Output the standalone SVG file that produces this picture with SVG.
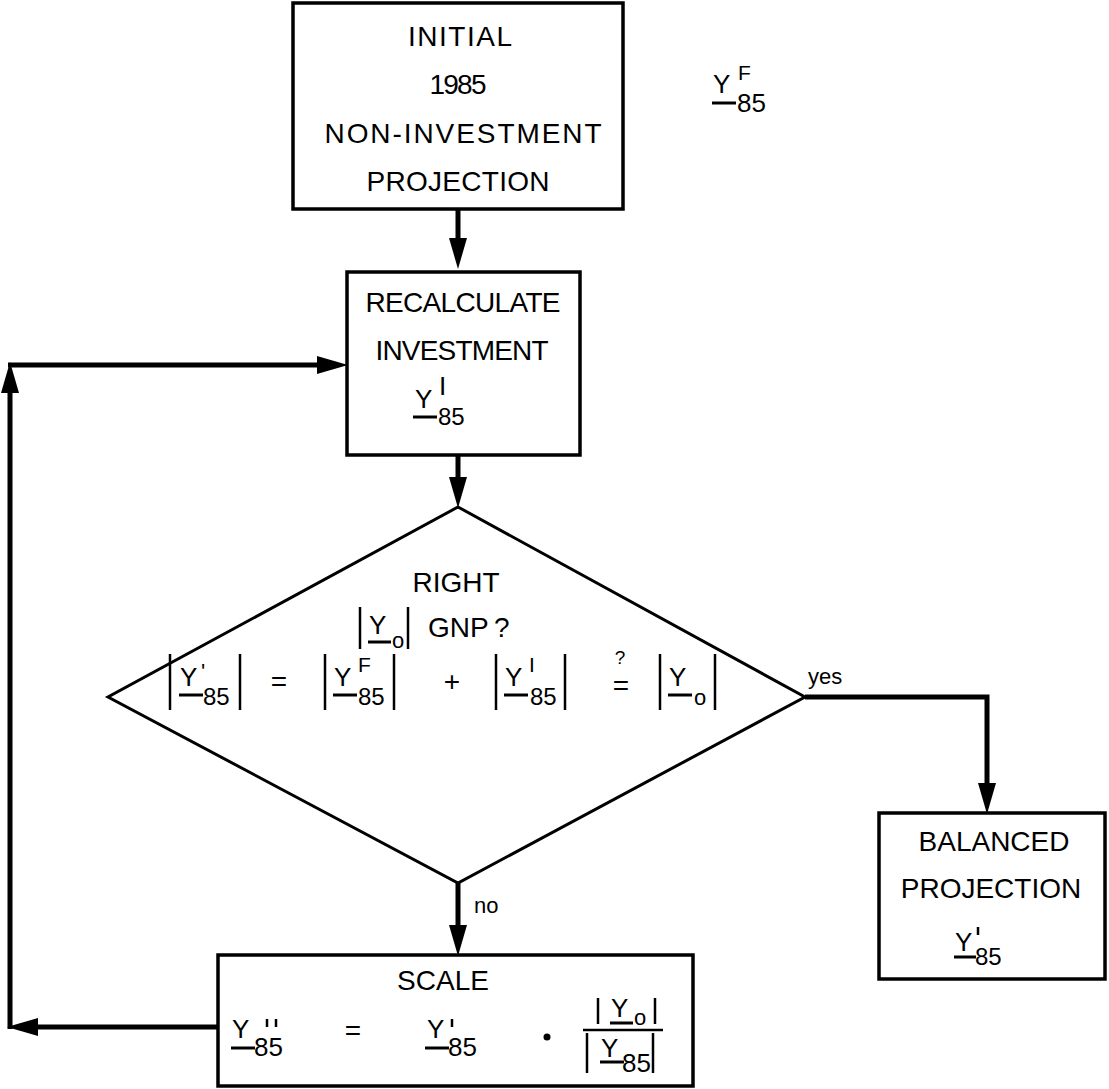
<svg xmlns="http://www.w3.org/2000/svg" width="1109" height="1089" viewBox="0 0 1109 1089">
  <defs>
    <style>
      .box { fill: #fff; stroke: #000; stroke-width: 3.5; }
      .dia { fill: #fff; stroke: #000; stroke-width: 3; stroke-linejoin: miter; }
      .conn { fill: none; stroke: #000; stroke-width: 5; }
      .t { font-family: "Liberation Sans", Arial, sans-serif; font-size: 28px; fill: #000; }
      .c { text-anchor: middle; }
      .v { font-size: 26px; }
      .sub { font-size: 24px; }
      .sup { font-size: 21px; }
      .small { font-size: 22px; }
      .q { font-size: 19px; }
      .bar { stroke: #000; stroke-width: 2.5; fill: none; }
      .ul { stroke: #000; stroke-width: 3; fill: none; }
    </style>
    <marker id="arrow" markerUnits="userSpaceOnUse" markerWidth="32" markerHeight="20" refX="10" refY="9" orient="auto">
      <path d="M0,0 L31,9 L0,18 Z" fill="#000"/>
    </marker>
  </defs>

  <rect width="1109" height="1089" fill="#fff"/>

  <!-- connectors -->
  <g id="connectors">
    <line class="conn" x1="458" y1="209" x2="458" y2="248" marker-end="url(#arrow)"/>
    <line class="conn" x1="458" y1="455" x2="458" y2="487" marker-end="url(#arrow)"/>
    <line class="conn" x1="458" y1="883" x2="458" y2="935" marker-end="url(#arrow)"/>
    <path class="conn" d="M805,697 H987 V793" marker-end="url(#arrow)"/>
    <line class="conn" x1="218" y1="1027" x2="28" y2="1027" marker-end="url(#arrow)"/>
    <line class="conn" x1="10" y1="1029" x2="10" y2="383" marker-end="url(#arrow)"/>
    <line class="conn" x1="8" y1="365" x2="327" y2="365" marker-end="url(#arrow)"/>
  </g>

  <!-- initial projection -->
  <g id="initial">
    <rect class="box" x="293" y="3" width="330" height="206"/>
    <text class="t c" x="460" y="46" textLength="104">INITIAL</text>
    <text class="t c" x="458" y="94" textLength="57">1985</text>
    <text class="t c" x="463" y="143" textLength="277">NON-INVESTMENT</text>
    <text class="t c" x="458" y="191" textLength="183">PROJECTION</text>
  </g>

  <!-- non-investment vector label -->
  <g id="yf85">
    <text class="t v" x="713" y="93">Y</text>
    <line class="ul" x1="712" y1="103" x2="736" y2="103"/>
    <text class="t sup" x="738" y="80">F</text>
    <text class="t v" x="737" y="112">85</text>
  </g>

  <!-- recalculate investment -->
  <g id="recalculate">
    <rect class="box" x="347" y="272" width="233" height="183"/>
    <text class="t c" x="463" y="312" textLength="195">RECALCULATE</text>
    <text class="t c" x="462" y="360" textLength="173">INVESTMENT</text>
    <text class="t v" x="415" y="408">Y</text>
    <text class="t v" x="439" y="395">I</text>
    <line class="ul" x1="413" y1="417" x2="437" y2="417"/>
    <text class="t sub" x="438" y="425">85</text>
  </g>

  <!-- decision -->
  <g id="decision">
    <polygon class="dia" points="458,507 805,697 458,883 108,697"/>
    <text class="t c" x="456" y="592">RIGHT</text>
    <!-- |Y_o| GNP ? -->
    <line class="bar" x1="360" y1="607" x2="360" y2="649"/>
    <text class="t v" x="369" y="634">Y</text>
    <line class="ul" x1="368" y1="642" x2="391" y2="642"/>
    <text class="t small" x="392" y="648">o</text>
    <line class="bar" x1="408" y1="607" x2="408" y2="649"/>
    <text class="t" x="428" y="637">GNP</text>
    <text class="t" x="494" y="637">?</text>
    <!-- |Y'85| = |YF85| + |YI85| ?= |Yo| -->
    <line class="bar" x1="170" y1="654" x2="170" y2="710"/>
    <text class="t v" x="180" y="686">Y</text>
    <text class="t small" x="201" y="679">'</text>
    <line class="ul" x1="179" y1="695" x2="203" y2="695"/>
    <text class="t sub" x="203" y="705">85</text>
    <line class="bar" x1="240" y1="654" x2="240" y2="710"/>
    <text class="t c" x="279" y="691">=</text>
    <line class="bar" x1="325" y1="654" x2="325" y2="710"/>
    <text class="t v" x="334" y="686">Y</text>
    <text class="t sup" x="358" y="672">F</text>
    <line class="ul" x1="333" y1="695" x2="357" y2="695"/>
    <text class="t sub" x="358" y="705">85</text>
    <line class="bar" x1="394" y1="654" x2="394" y2="710"/>
    <text class="t c" x="452" y="691">+</text>
    <line class="bar" x1="496" y1="654" x2="496" y2="710"/>
    <text class="t v" x="505" y="686">Y</text>
    <text class="t sup" x="529" y="672">I</text>
    <line class="ul" x1="504" y1="695" x2="528" y2="695"/>
    <text class="t sub" x="530" y="705">85</text>
    <line class="bar" x1="565" y1="654" x2="565" y2="710"/>
    <text class="t q c" x="620" y="664">?</text>
    <text class="t c" x="621" y="695">=</text>
    <line class="bar" x1="660" y1="654" x2="660" y2="710"/>
    <text class="t v" x="669" y="686">Y</text>
    <line class="ul" x1="668" y1="695" x2="692" y2="695"/>
    <text class="t small" x="694" y="705">o</text>
    <line class="bar" x1="715" y1="654" x2="715" y2="710"/>
  </g>

  <text class="t small" x="808" y="684">yes</text>
  <text class="t small" x="474" y="913">no</text>

  <!-- balanced projection -->
  <g id="balanced">
    <rect class="box" x="879" y="813" width="226" height="166"/>
    <text class="t c" x="994" y="851">BALANCED</text>
    <text class="t c" x="991" y="898">PROJECTION</text>
    <text class="t v" x="955" y="951">Y</text>
    <line class="bar" x1="978" y1="927" x2="978" y2="935"/>
    <line class="ul" x1="954" y1="957" x2="976" y2="957"/>
    <text class="t sub" x="975" y="965">85</text>
  </g>

  <!-- scale step -->
  <g id="scale">
    <rect class="box" x="218" y="955" width="475" height="131"/>
    <text class="t c" x="443" y="990">SCALE</text>
    <text class="t v" x="232" y="1038">Y</text>
    <line class="bar" x1="267" y1="1019" x2="267" y2="1027"/>
    <line class="bar" x1="276" y1="1019" x2="276" y2="1027"/>
    <line class="ul" x1="231" y1="1048" x2="255" y2="1048"/>
    <text class="t v" x="254" y="1056">85</text>
    <text class="t c" x="353" y="1040">=</text>
    <text class="t v" x="427" y="1038">Y</text>
    <line class="bar" x1="452" y1="1019" x2="452" y2="1027"/>
    <line class="ul" x1="425" y1="1048" x2="449" y2="1048"/>
    <text class="t v" x="448" y="1056">85</text>
    <circle cx="547" cy="1037" r="3.5" fill="#000"/>
    <!-- |Y_o| / |Y_85| -->
    <line class="bar" x1="598" y1="998" x2="598" y2="1024"/>
    <text class="t v" x="611" y="1017">Y</text>
    <line class="ul" x1="610" y1="1023" x2="633" y2="1023"/>
    <text class="t small" x="634" y="1025">o</text>
    <line class="bar" x1="655" y1="998" x2="655" y2="1024"/>
    <line class="bar" x1="583" y1="1030" x2="663" y2="1030"/>
    <line class="bar" x1="587" y1="1033" x2="587" y2="1073"/>
    <text class="t v" x="601" y="1057">Y</text>
    <line class="ul" x1="600" y1="1062" x2="624" y2="1062"/>
    <text class="t v" x="622" y="1072">85</text>
    <line class="bar" x1="653" y1="1033" x2="653" y2="1073"/>
  </g>
</svg>
